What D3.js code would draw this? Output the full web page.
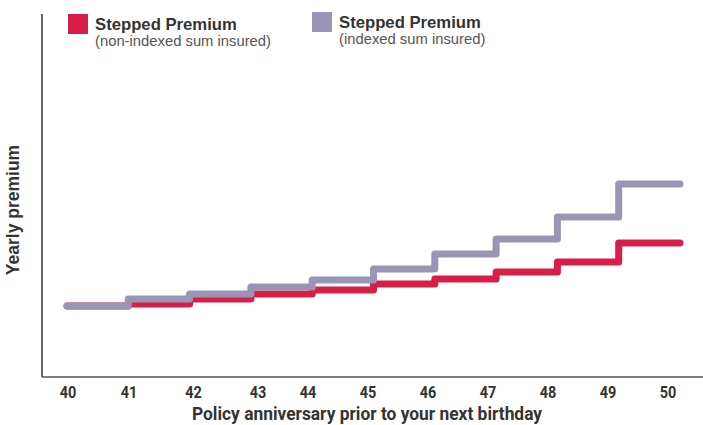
<!DOCTYPE html>
<html><head><meta charset="utf-8">
<script src="https://cdn.jsdelivr.net/npm/d3@7"></script>
<style>body{margin:0;background:#fff}svg{display:block}</style>
</head><body>
<svg id="c" width="703" height="425"></svg>
<script>
const ages = [40, 41, 42, 43, 44, 45, 46, 47, 48, 49, 50];
const tickLabels = ["40","41","42","43","44","45","46","47","48","49","50"];
// yearly premium (arbitrary units) for each policy anniversary; last value repeats to close the step
const nonIndexed = [71, 73, 78, 83, 87, 93, 98, 105, 115, 134, 134];
const indexed    = [71, 78, 83, 90, 97, 108, 123, 138, 160, 193, 193];
const seriesNames = ["Stepped Premium", "Stepped Premium"];
const seriesNotes = ["(non-indexed sum insured)", "(indexed sum insured)"];
const colors = ["#d61e47", "#9a95b5"];

const svg = d3.select("#c");
const x = d3.scaleLinear().domain([40, 50]).range([67, 680]);
const y = d3.scaleLinear().domain([0, 362]).range([377, 15]);
// label positions in the original are not evenly spaced
const xl = d3.scaleLinear().domain([40, 41, 43, 44, 50]).range([68, 129, 258, 308, 668]);

// axes lines
svg.append("line").attr("x1", 42).attr("x2", 42).attr("y1", 14).attr("y2", 377)
  .attr("stroke", "#333").attr("stroke-width", 1.5);
svg.append("line").attr("x1", 42).attr("x2", 703).attr("y1", 377).attr("y2", 377)
  .attr("stroke", "#555").attr("stroke-width", 1.5);

const line = d3.line().x((d, i) => x(ages[i])).y(d => y(d)).curve(d3.curveStepAfter);
[nonIndexed, indexed].forEach((s, k) => {
  svg.append("path").datum(s).attr("d", line).attr("fill", "none")
    .attr("stroke", colors[k]).attr("stroke-width", 7)
    .attr("stroke-linecap", "round").attr("stroke-linejoin", "round");
});

// tick labels
svg.append("g").selectAll("text").data(ages).join("text")
  .attr("transform", d => `translate(${xl(d)},398) scale(0.85,1)`)
  .attr("text-anchor", "middle")
  .attr("font-family", "Roboto").attr("font-weight", 700).attr("font-size", 17)
  .attr("fill", "#333").text((d, i) => tickLabels[i]);

svg.append("text").attr("transform", "translate(367,420) scale(0.95,1)")
  .attr("text-anchor", "middle").attr("font-family", "Roboto").attr("font-weight", 700)
  .attr("font-size", 18.3).attr("fill", "#333")
  .text("Policy anniversary prior to your next birthday");

svg.append("text").attr("transform", "translate(19,210) rotate(-90)")
  .attr("text-anchor", "middle").attr("font-family", "Liberation Sans").attr("font-weight", 700)
  .attr("font-size", 17.5).attr("fill", "#333").text("Yearly premium");

// legend
const legendPos = [[68, 14], [312, 12]];
legendPos.forEach((p, k) => {
  const g = svg.append("g").attr("transform", `translate(${p[0]},${p[1]})`);
  g.append("rect").attr("width", 20).attr("height", 20).attr("fill", colors[k]);
  g.append("text").attr("x", 27).attr("y", 16).attr("font-family", "Liberation Sans")
    .attr("font-weight", 700).attr("font-size", 16.7).attr("fill", "#333").text(seriesNames[k]);
  g.append("text").attr("x", 27).attr("y", 32).attr("font-family", "Liberation Sans")
    .attr("font-size", 14.8).attr("fill", "#555").text(seriesNotes[k]);
});
</script>
</body></html>
